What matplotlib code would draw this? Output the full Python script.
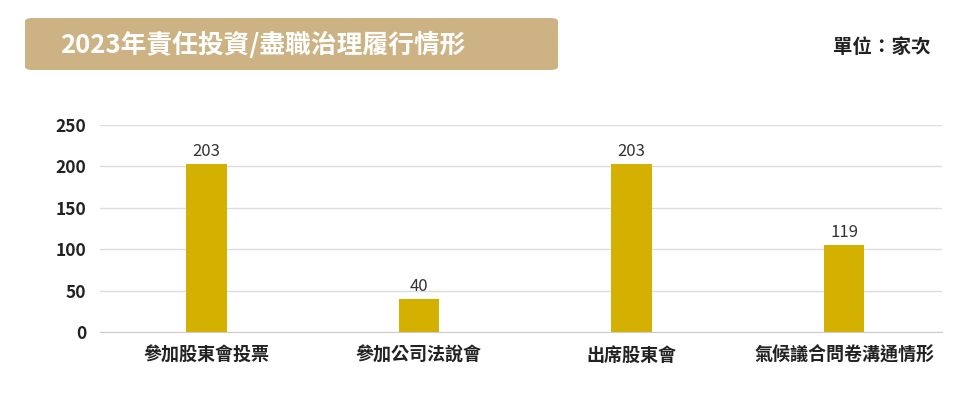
import matplotlib
matplotlib.use("Agg")
import matplotlib.pyplot as plt
from matplotlib.patches import FancyBboxPatch

plt.rcParams["font.family"] = ["Noto Sans CJK TC", "DejaVu Sans"]

categories = ["參加股東會投票", "參加公司法說會", "出席股東會", "氣候議合問卷溝通情形"]
bar_values = [203, 40, 203, 105]
value_labels = ["203", "40", "203", "119"]
yticks = [0, 50, 100, 150, 200, 250]

fig = plt.figure(figsize=(9.69, 4.09), dpi=100)
ax = fig.add_axes([100/969, 1-332/409, 842/969, 207/409])
x = range(len(categories))
bars = ax.bar(x, bar_values, width=0.19, color="#D4B000", zorder=3)
for b, lab in zip(bars, value_labels):
    ax.text(b.get_x()+b.get_width()/2, b.get_height()+5, lab, ha="center", va="bottom",
            fontsize=12, color="#333333", fontweight="light")
ax.set_xlim(-0.5, 3.46)
ax.set_ylim(0, 250)
ax.set_yticks(yticks)
ax.set_xticks(list(x))
ax.set_xticklabels(categories, fontsize=13, fontweight="bold", color="#222222")
ax.tick_params(axis="y", labelsize=12.5, length=0, pad=10, labelcolor="#222222")
ax.tick_params(axis="x", length=0, pad=10)
for t in ax.get_yticklabels():
    t.set_fontweight("bold")
ax.yaxis.grid(True, color="#dddddd", linewidth=1, zorder=0)
for s in ["top", "right", "left"]:
    ax.spines[s].set_visible(False)
ax.spines["bottom"].set_color("#cccccc")

box = FancyBboxPatch((25/969, 1-70/409), 533/969, 52/409,
                     boxstyle="round,pad=0,rounding_size=0.008",
                     transform=fig.transFigure, facecolor="#CDB384", edgecolor="none")
fig.patches.append(box)
fig.text(60/969, 1-45/409, "2023年責任投資/盡職治理履行情形", ha="left", va="center",
         fontsize=18.5, color="white", fontweight="bold")
fig.text(930/969, 1-47/409, "單位：家次", ha="right", va="center",
         fontsize=14, color="#222222", fontweight="bold")
fig.savefig("out.png", dpi=100)
